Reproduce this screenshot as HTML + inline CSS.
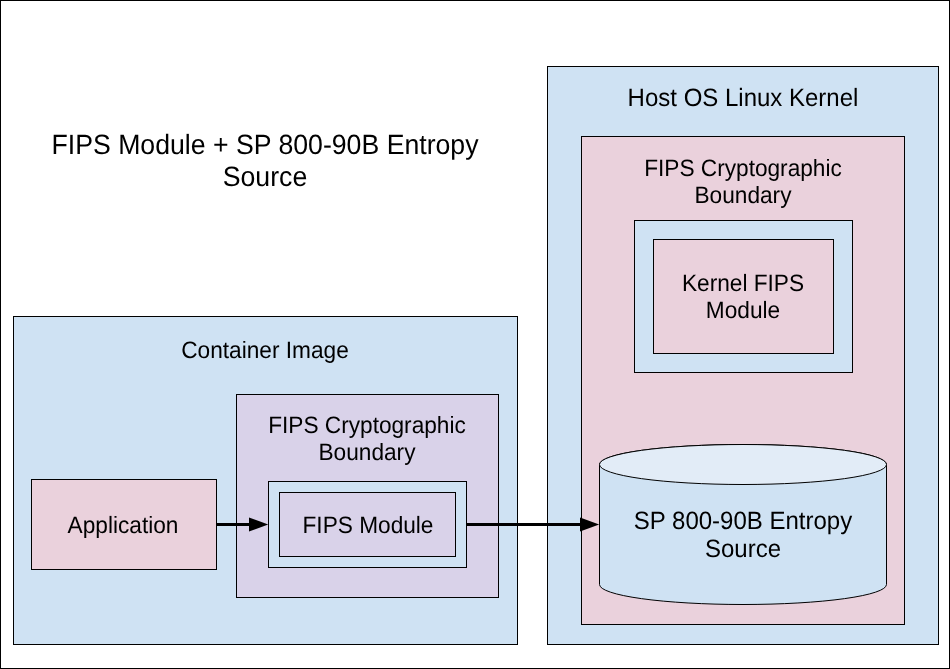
<!DOCTYPE html>
<html>
<head>
<meta charset="utf-8">
<title>FIPS Module + SP 800-90B Entropy Source</title>
<style>
  html, body { margin: 0; padding: 0; background: #ffffff; }
  body { width: 950px; height: 669px; position: relative; overflow: hidden;
         font-family: "Liberation Sans", sans-serif; color: #000000; }
  #shapes { position: absolute; left: 0; top: 0; width: 950px; height: 669px; display: block; }
  .t { position: absolute; text-align: center; white-space: nowrap; margin: 0; padding: 0;
       text-rendering: geometricPrecision; will-change: transform;
       transform: scaleY(1.043); transform-origin: 50% 50%; }
</style>
</head>
<body>
<svg id="shapes" width="950" height="669" viewBox="0 0 950 669">
  <!-- outer frame -->
  <rect x="0.5" y="0.5" width="949" height="668" fill="#ffffff" stroke="#000000" stroke-width="1"/>

  <!-- Container Image -->
  <rect x="13.5" y="316.5" width="504" height="328" fill="#cfe2f3" stroke="#000000" stroke-width="1"/>
  <!-- Application -->
  <rect x="31.5" y="479.5" width="185" height="90" fill="#ead1dc" stroke="#000000" stroke-width="1"/>
  <!-- FIPS Cryptographic Boundary (container) -->
  <rect x="236.5" y="394.5" width="262" height="203" fill="#d9d2e9" stroke="#000000" stroke-width="1"/>
  <!-- FIPS Module outer / inner -->
  <rect x="268.5" y="481.5" width="198" height="86" fill="#cfe2f3" stroke="#000000" stroke-width="1"/>
  <rect x="279.5" y="492.5" width="176" height="64" fill="#d9d2e9" stroke="#000000" stroke-width="1"/>

  <!-- Host OS Linux Kernel -->
  <rect x="547.5" y="66.5" width="391" height="578" fill="#cfe2f3" stroke="#000000" stroke-width="1"/>
  <!-- FIPS Cryptographic Boundary (host) -->
  <rect x="581.5" y="136.5" width="323" height="488" fill="#ead1dc" stroke="#000000" stroke-width="1"/>
  <!-- Kernel FIPS Module outer / inner -->
  <rect x="634.5" y="220.5" width="218" height="152" fill="#cfe2f3" stroke="#000000" stroke-width="1"/>
  <rect x="653.5" y="239.5" width="180" height="114" fill="#ead1dc" stroke="#000000" stroke-width="1"/>

  <!-- Cylinder -->
  <path d="M599.5 464.5 A143.5 20 0 0 1 886.5 464.5 L886.5 584.5 A143.5 20 0 0 1 599.5 584.5 Z" fill="#cfe2f3" stroke="#000000" stroke-width="1"/>
  <ellipse cx="743" cy="464.5" rx="143.5" ry="20" fill="#e2ecf7" stroke="#000000" stroke-width="1"/>

  <!-- Arrow: Application -> FIPS Module -->
  <line x1="217" y1="524.5" x2="252" y2="524.5" stroke="#000000" stroke-width="3"/>
  <polygon points="249,517.4 268.2,524.5 249,531.6" fill="#000000"/>
  <!-- Arrow: FIPS Module -> Entropy Source -->
  <line x1="467" y1="524.5" x2="583" y2="524.5" stroke="#000000" stroke-width="3"/>
  <polygon points="580,517.4 599.2,524.5 580,531.6" fill="#000000"/>
</svg>
<div class="t" style="left:5.40px; top:129.64px; width:520px; font-size:26.67px; line-height:30.968px;">FIPS Module + SP 800-90B Entropy<br>Source</div>
<div class="t" style="left:5.30px; top:337.66px; width:520px; font-size:22.67px; line-height:25.887px;">Container Image</div>
<div class="t" style="left:106.70px; top:413.11px; width:520px; font-size:22.67px; line-height:25.695px;">FIPS Cryptographic<br>Boundary</div>
<div class="t" style="left:-136.60px; top:512.56px; width:520px; font-size:22.67px; line-height:25.887px;">Application</div>
<div class="t" style="left:107.50px; top:513.46px; width:520px; font-size:22.67px; line-height:25.887px;">FIPS Module</div>
<div class="t" style="left:483.30px; top:85.80px; width:520px; font-size:24.0px; line-height:26.846px;">Host OS Linux Kernel</div>
<div class="t" style="left:482.80px; top:155.04px; width:520px; font-size:22.67px; line-height:26.270px;">FIPS Cryptographic<br>Boundary</div>
<div class="t" style="left:483.10px; top:271.22px; width:520px; font-size:22.67px; line-height:25.887px;">Kernel FIPS<br>Module</div>
<div class="t" style="left:483.20px; top:508.21px; width:520px; font-size:24.0px; line-height:27.421px;">SP 800-90B Entropy<br>Source</div>
</body>
</html>
